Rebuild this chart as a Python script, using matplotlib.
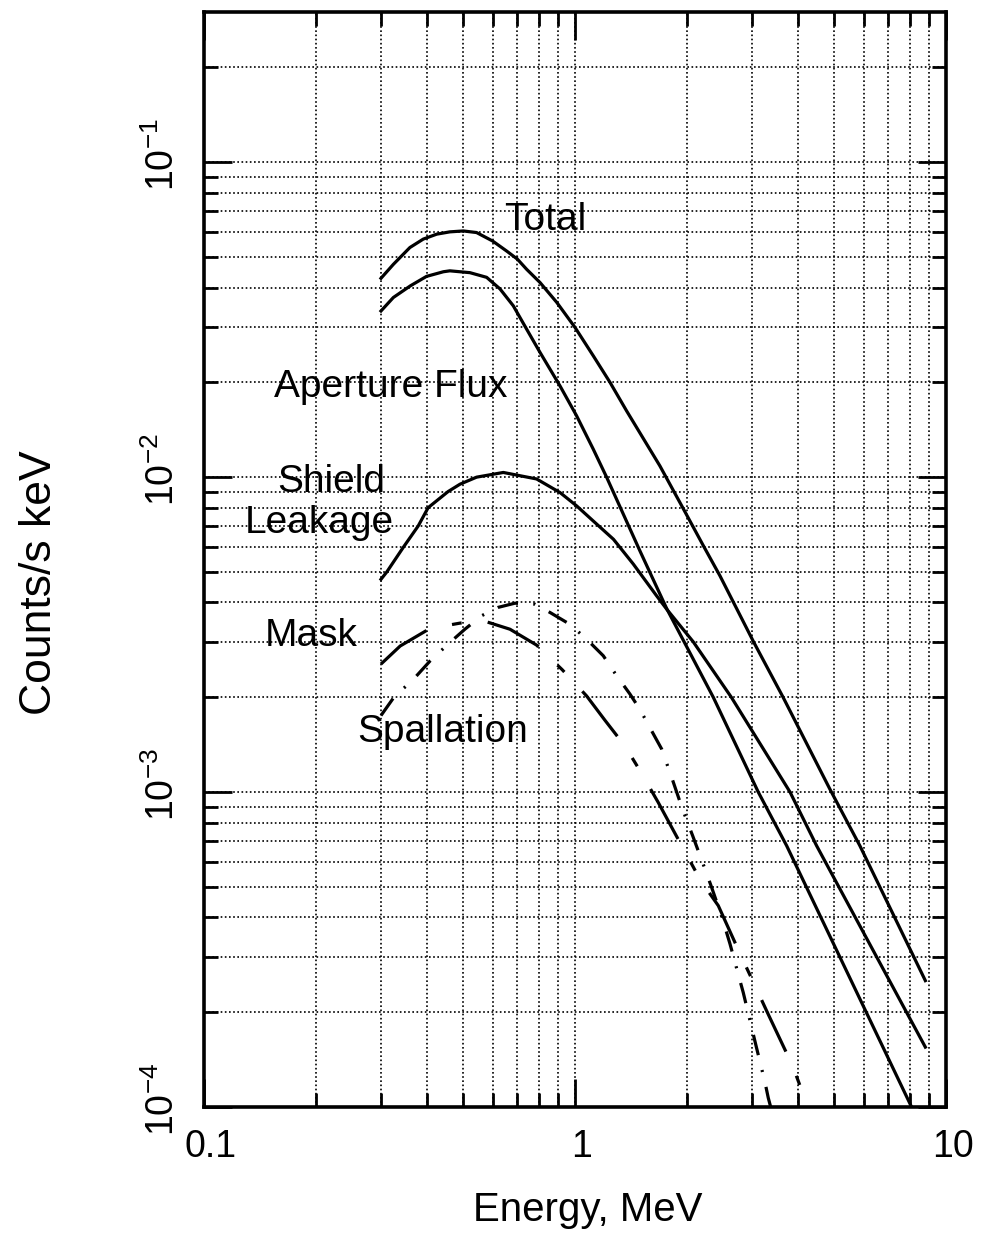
import matplotlib
matplotlib.use("Agg")
import matplotlib.pyplot as plt
import matplotlib.transforms as mtransforms
from matplotlib.ticker import FixedLocator, NullFormatter

plt.rcParams['font.family'] = ['Liberation Sans', 'DejaVu Sans']
plt.rcParams['mathtext.fontset'] = 'custom'
plt.rcParams['mathtext.rm'] = 'Liberation Sans'
plt.rcParams['lines.scale_dashes'] = False

# energy (MeV) / counts/s keV
total_e = [0.3, 0.324, 0.359, 0.39, 0.424, 0.46, 0.5, 0.543, 0.6, 0.655, 0.7, 0.741,
           0.805, 0.893, 1.0, 1.12, 1.243, 1.378, 1.694, 1.959, 2.22, 2.46, 3.03,
           3.64, 4.87, 5.86, 8.8]
total_v = [0.0428, 0.0474, 0.0536, 0.057, 0.0591, 0.0601, 0.0605, 0.0598, 0.0562,
           0.0522, 0.0492, 0.0457, 0.0415, 0.0359, 0.0299, 0.0243, 0.0200, 0.01623,
           0.01086, 0.00794, 0.00605, 0.00486, 0.0030, 0.0020, 0.00102, 0.000676,
           0.000252]

aper_e = [0.3, 0.324, 0.36, 0.398, 0.442, 0.46, 0.521, 0.578, 0.628, 0.682, 0.741,
          0.805, 0.911, 1.01, 1.12, 1.217, 1.5, 1.77, 2.36, 3.12, 3.72, 8.08]
aper_v = [0.0337, 0.0372, 0.0405, 0.0434, 0.0449, 0.0452, 0.0446, 0.0431, 0.0396,
          0.035, 0.0295, 0.0249, 0.0195, 0.01567, 0.01228, 0.0100, 0.0058, 0.00381,
          0.0020, 0.0010, 0.000676, 0.0001]

shield_e = [0.3, 0.311, 0.345, 0.378, 0.402, 0.455, 0.49, 0.543, 0.641, 0.788, 0.911,
            1.01, 1.12, 1.27, 1.436, 1.66, 1.767, 2.084, 2.64, 3.80, 4.48, 8.8]
shield_v = [0.00474, 0.005, 0.006, 0.007, 0.008, 0.009, 0.0095, 0.0100, 0.01035,
            0.00987, 0.00894, 0.00811, 0.00726, 0.00635, 0.0053, 0.0042, 0.00381,
            0.0030, 0.0020, 0.0010, 0.000676, 0.000155]

mask_e = [0.3, 0.338, 0.407, 0.49, 0.566, 0.668, 0.788, 0.923, 1.075, 1.205, 1.364,
          1.497, 1.677, 1.967, 2.186, 2.434, 2.814, 3.056, 3.319, 3.863, 4.246]
mask_v = [0.00255, 0.00291, 0.00331, 0.00344, 0.0035, 0.00329, 0.00293, 0.00245,
          0.00202, 0.00169, 0.0014, 0.00117, 0.000927, 0.000655, 0.000522, 0.000436,
          0.000299, 0.000243, 0.000197, 0.000135, 0.0001]

spall_e = [0.3, 0.327, 0.363, 0.407, 0.455, 0.505, 0.56, 0.621, 0.689, 0.78, 0.856,
           0.969, 1.075, 1.192, 1.296, 1.406, 1.497, 1.593, 1.713, 1.834, 1.949,
           2.077, 2.241, 2.336, 2.49, 2.617, 2.755, 2.842, 2.994, 3.075, 3.252,
           3.319, 3.37]
spall_v = [0.00175, 0.00202, 0.00225, 0.00261, 0.00295, 0.00329, 0.00363, 0.00386,
           0.00398, 0.00395, 0.00372, 0.00341, 0.00306, 0.00271, 0.00234, 0.00205,
           0.00183, 0.0016, 0.00137, 0.00109, 0.000883, 0.000726, 0.00057, 0.000498,
           0.000401, 0.00033, 0.000264, 0.000231, 0.000179, 0.000157, 0.00012,
           0.000107, 0.0001]

x_major = [0.1, 1, 10]
x_labels = ['0.1', '1', '10']
x_minor = [0.2, 0.3, 0.4, 0.5, 0.6, 0.7, 0.8, 0.9, 2, 3, 4, 5, 6, 7, 8, 9]
y_major = [1e-4, 1e-3, 1e-2, 1e-1]
y_labels = ['10$^{-4}$', '10$^{-3}$', '10$^{-2}$', '10$^{-1}$']
y_minor = [m * d for d in (1e-4, 1e-3, 1e-2) for m in range(2, 10)] + [0.2]

labels = ['Total', 'Aperture Flux', 'Shield', 'Leakage', 'Mask', 'Spallation']
label_e = [0.83, 0.319, 0.22, 0.204, 0.194, 0.441]
label_v = [0.0655, 0.0193, 0.00964, 0.00715, 0.00313, 0.00155]

fig = plt.figure(figsize=(9.83, 12.45), dpi=100)
ax = fig.add_axes([0.2075, 0.1108, 0.7548, 0.8796])
ax.set_xscale('log')
ax.set_yscale('log')
ax.set_xlim(0.1, 10)
ax.set_ylim(1e-4, 0.3)

lw = 2.3
ax.plot(total_e, total_v, color='k', lw=lw)
ax.plot(aper_e, aper_v, color='k', lw=lw)
ax.plot(shield_e, shield_v, color='k', lw=lw)
ax.plot(mask_e, mask_v, color='k', lw=lw, linestyle=(0, (41, 19, 7, 19)))
ax.plot(spall_e, spall_v, color='k', lw=lw, linestyle=(0, (15, 11, 1.5, 11)))

for t, e, v in zip(labels, label_e, label_v):
    ax.text(e, v, t, ha='center', va='center', fontsize=28)

ax.xaxis.set_major_locator(FixedLocator(x_major))
ax.xaxis.set_minor_locator(FixedLocator(x_minor))
ax.xaxis.set_minor_formatter(NullFormatter())
ax.set_xticklabels(x_labels, fontsize=27)
ax.yaxis.set_major_locator(FixedLocator(y_major))
ax.yaxis.set_minor_locator(FixedLocator(y_minor))
ax.yaxis.set_minor_formatter(NullFormatter())
ax.set_yticklabels(y_labels, fontsize=27, rotation=90, va='center', ha='right')

ax.grid(which='both', color='k', linestyle=(0, (1.2, 1.8)), linewidth=1.2)
ax.tick_params(which='both', direction='in', top=True, right=True, width=2)
ax.tick_params(which='major', length=20)
ax.tick_params(which='minor', length=10)
ax.tick_params(axis='x', which='major', pad=16)
ax.tick_params(axis='y', which='major', pad=16)
for s in ax.spines.values():
    s.set_linewidth(2.6)

dx = mtransforms.ScaledTranslation(7 / 100, 0, fig.dpi_scale_trans)
for lab in ax.get_xticklabels():
    lab.set_transform(lab.get_transform() + dx)
dy = mtransforms.ScaledTranslation(0, 8 / 100, fig.dpi_scale_trans)
for lab in ax.get_yticklabels():
    lab.set_transform(lab.get_transform() + dy)

fig.text(588 / 983, 1 - 1210 / 1245, 'Energy, MeV', ha='center', va='center',
         fontsize=29)
fig.text(40 / 983, 1 - 583 / 1245, 'Counts/s keV', ha='center', va='center',
         rotation=90, fontsize=32)

fig.savefig('out.png', dpi=100)
